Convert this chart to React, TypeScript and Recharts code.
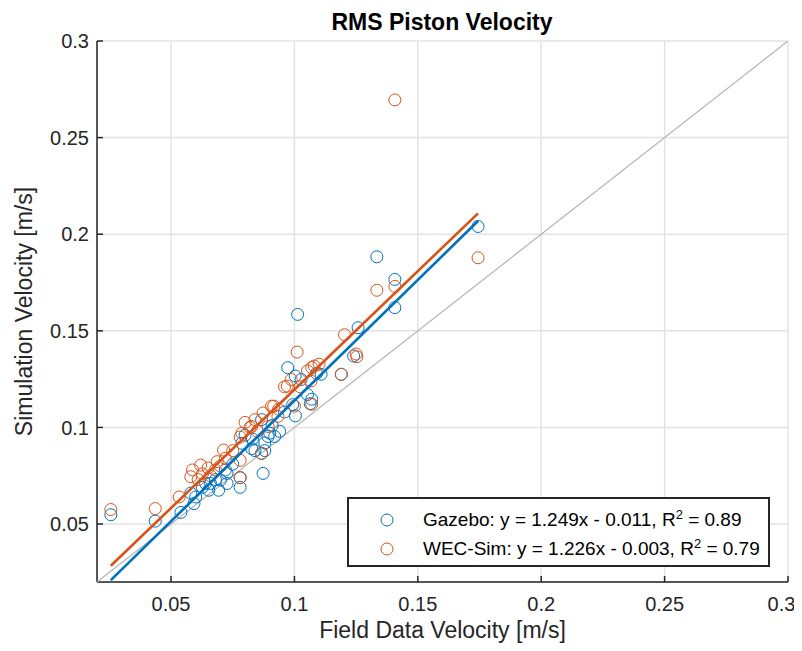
import React from 'react';
import {
  ScatterChart,
  Scatter,
  XAxis,
  YAxis,
  CartesianGrid,
  Legend,
} from 'recharts';

// field data velocity vs simulated velocity [m/s]
const gazeboPoints: [number, number][] = [
  [0.0256, 0.0548], [0.0436, 0.0515], [0.054, 0.056], [0.0593, 0.0606],
  [0.06, 0.064], [0.058, 0.066], [0.0627, 0.069], [0.0653, 0.0675],
  [0.066, 0.071], [0.0693, 0.0675], [0.07, 0.0727], [0.0727, 0.071],
  [0.0727, 0.0762], [0.068, 0.073], [0.078, 0.074], [0.078, 0.069],
  [0.0873, 0.0762], [0.0787, 0.0918], [0.0827, 0.089], [0.084, 0.088],
  [0.0867, 0.0866], [0.088, 0.088], [0.092, 0.0953], [0.09, 0.097],
  [0.0867, 0.104], [0.0893, 0.0953], [0.083, 0.094], [0.08, 0.096],
  [0.088, 0.092], [0.094, 0.098], [0.0973, 0.1309], [0.1003, 0.1266],
  [0.1027, 0.1248], [0.0993, 0.1118], [0.1004, 0.106], [0.1053, 0.117],
  [0.1064, 0.1123], [0.107, 0.1146], [0.1108, 0.1275], [0.109, 0.128],
  [0.1013, 0.1585], [0.1258, 0.1516], [0.124, 0.137], [0.119, 0.1275],
  [0.1334, 0.1883], [0.1407, 0.1766], [0.1407, 0.162], [0.1744, 0.204],
  [0.096, 0.108], [0.091, 0.101], [0.075, 0.081], [0.072, 0.078],
  [0.064, 0.071],
];

const wecSimPoints: [number, number][] = [
  [0.0256, 0.0575], [0.0436, 0.058], [0.0533, 0.064], [0.058, 0.0745],
  [0.0587, 0.078], [0.062, 0.0805], [0.0627, 0.076], [0.065, 0.079],
  [0.0687, 0.0823], [0.0713, 0.0883], [0.068, 0.078], [0.078, 0.074],
  [0.078, 0.083], [0.0787, 0.097], [0.08, 0.1026], [0.078, 0.095],
  [0.0867, 0.0866], [0.084, 0.104], [0.0873, 0.1075], [0.0907, 0.111],
  [0.0933, 0.1057], [0.0827, 0.1005], [0.0893, 0.1005], [0.085, 0.098],
  [0.082, 0.1], [0.096, 0.121], [0.0987, 0.1248], [0.1, 0.111],
  [0.1024, 0.121], [0.1053, 0.1292], [0.108, 0.1318], [0.107, 0.131],
  [0.11, 0.1327], [0.0971, 0.1214], [0.107, 0.112], [0.0936, 0.1094],
  [0.0916, 0.111], [0.1011, 0.139], [0.1203, 0.148], [0.1253, 0.1366],
  [0.125, 0.138], [0.119, 0.1275], [0.1334, 0.171], [0.1407, 0.173],
  [0.1407, 0.2695], [0.1744, 0.1878], [0.072, 0.084], [0.075, 0.088],
  [0.066, 0.075], [0.07, 0.08], [0.061, 0.073], [0.1067, 0.124],
];

// linear fits from the legend: [slope, intercept, R^2]
const gazeboFit = [1.249, -0.011, 0.89];
const wecSimFit = [1.226, -0.003, 0.79];

const axisTicks = [0.05, 0.1, 0.15, 0.2, 0.25, 0.3];
const axisDomain: [number, number] = [0.02, 0.3];

const BLUE = '#0072BD';
const ORANGE = '#D95319';
const INK = '#262626';
const FONT = '"Liberation Sans", Arial, Helvetica, sans-serif';

const toRows = (pts: [number, number][]) => pts.map(([x, y]) => ({ x, y }));

const fitRows = (pts: [number, number][], fit: number[]) => {
  const xs = pts.map((p) => p[0]);
  const lo = Math.min(...xs);
  const hi = Math.max(...xs);
  return [lo, hi].map((x) => ({ x, y: fit[0] * x + fit[1] }));
};

const diagonalRows = axisDomain.map((v) => ({ x: v, y: v }));

const OpenCircle = (props: any) => {
  const { cx, cy, stroke } = props;
  if (cx == null || cy == null) return null;
  return <circle cx={cx} cy={cy} r={6} fill="none" stroke={stroke} strokeWidth={1} />;
};

const NoShape = () => null;

const fmt = (v: number) => (v < 0 ? ` - ${Math.abs(v).toFixed(3)}` : ` + ${v.toFixed(3)}`);

const LegendBox = () => {
  const rows = [
    { name: 'Gazebo', color: BLUE, fit: gazeboFit },
    { name: 'WEC-Sim', color: ORANGE, fit: wecSimFit },
  ];
  return (
    <div
      style={{
        width: 423,
        height: 70,
        border: `2px solid ${INK}`,
        background: '#fff',
        fontFamily: FONT,
        fontSize: 19,
        color: '#000',
        boxSizing: 'border-box',
        paddingTop: 6,
      }}
    >
      {rows.map((r) => (
        <div key={r.name} style={{ display: 'flex', alignItems: 'center', height: 29 }}>
          <svg width={74} height={20} style={{ flex: 'none' }}>
            <circle cx={38} cy={10} r={6} fill="none" stroke={r.color} strokeWidth={1} />
          </svg>
          <span style={{ whiteSpace: 'nowrap' }}>
            {r.name}: y = {r.fit[0].toFixed(3)}x{fmt(r.fit[1])}, R
            <sup style={{ fontSize: 13, lineHeight: 0 }}>2</sup> = {r.fit[2].toFixed(2)}
          </span>
        </div>
      ))}
    </div>
  );
};

const tickStyle = { fontSize: 20, fill: INK, fontFamily: FONT };
const labelStyle = { fontSize: 23, fill: INK, fontFamily: FONT, textAnchor: 'middle' as const };

export default function App() {
  return (
    <div style={{ position: 'relative', width: 786, height: 635, fontFamily: FONT }}>
      <div
        style={{
          position: 'absolute',
          left: 89,
          width: 690,
          top: 0,
          lineHeight: '28px',
          textAlign: 'center',
          fontWeight: 'bold',
          fontSize: 23,
          color: '#000',
        }}
      >
        RMS Piston Velocity
      </div>
      <ScatterChart
        width={786}
        height={635}
        margin={{ top: 33, right: 6, bottom: 31, left: 39 }}
      >
        <CartesianGrid stroke="#e3e3e3" strokeWidth={1.5} />
        <XAxis
          type="number"
          dataKey="x"
          domain={axisDomain}
          ticks={axisTicks}
          allowDataOverflow
          height={30}
          stroke={INK}
          strokeWidth={1.5}
          tickSize={-6}
          tickMargin={21}
          tick={tickStyle}
          tickFormatter={(v: number) => String(v)}
          label={{
            value: 'Field Data Velocity [m/s]',
            position: 'insideBottom',
            offset: -26,
            style: labelStyle,
          }}
        />
        <XAxis
          xAxisId="top"
          orientation="top"
          type="number"
          dataKey="x"
          domain={axisDomain}
          ticks={axisTicks}
          allowDataOverflow
          height={0}
          stroke={INK}
          strokeWidth={1.5}
          tickSize={-6}
          tickFormatter={() => ''}
        />
        <YAxis
          type="number"
          dataKey="y"
          domain={axisDomain}
          ticks={axisTicks}
          allowDataOverflow
          width={50}
          stroke={INK}
          strokeWidth={1.5}
          tickSize={-6}
          tickMargin={14}
          tick={tickStyle}
          tickFormatter={(v: number) => String(v)}
          label={{
            value: 'Simulation Velocity [m/s]',
            angle: -90,
            position: 'insideLeft',
            offset: -23,
            style: labelStyle,
          }}
        />
        <YAxis
          yAxisId="right"
          orientation="right"
          type="number"
          dataKey="y"
          domain={axisDomain}
          ticks={axisTicks}
          allowDataOverflow
          width={0}
          stroke={INK}
          strokeWidth={1.5}
          tickSize={-6}
          tickFormatter={() => ''}
        />
        <Scatter
          data={diagonalRows}
          line={{ stroke: '#b3b3b3', strokeWidth: 1.2 }}
          shape={<NoShape />}
          isAnimationActive={false}
          legendType="none"
        />
        <Scatter
          name="Gazebo"
          data={toRows(gazeboPoints)}
          stroke={BLUE}
          fill="none"
          shape={<OpenCircle />}
          isAnimationActive={false}
        />
        <Scatter
          name="WEC-Sim"
          data={toRows(wecSimPoints)}
          stroke={ORANGE}
          fill="none"
          shape={<OpenCircle />}
          isAnimationActive={false}
        />
        <Scatter
          data={fitRows(gazeboPoints, gazeboFit)}
          line={{ stroke: BLUE, strokeWidth: 2.6 }}
          shape={<NoShape />}
          isAnimationActive={false}
          legendType="none"
        />
        <Scatter
          data={fitRows(wecSimPoints, wecSimFit)}
          line={{ stroke: ORANGE, strokeWidth: 2.6 }}
          shape={<NoShape />}
          isAnimationActive={false}
          legendType="none"
        />
        <Legend
          layout="horizontal"
          verticalAlign="middle"
          align="center"
          content={() => <LegendBox />}
          wrapperStyle={{ position: 'absolute', left: 339, top: 489, width: 423, bottom: 'auto' }}
        />
      </ScatterChart>
    </div>
  );
}
